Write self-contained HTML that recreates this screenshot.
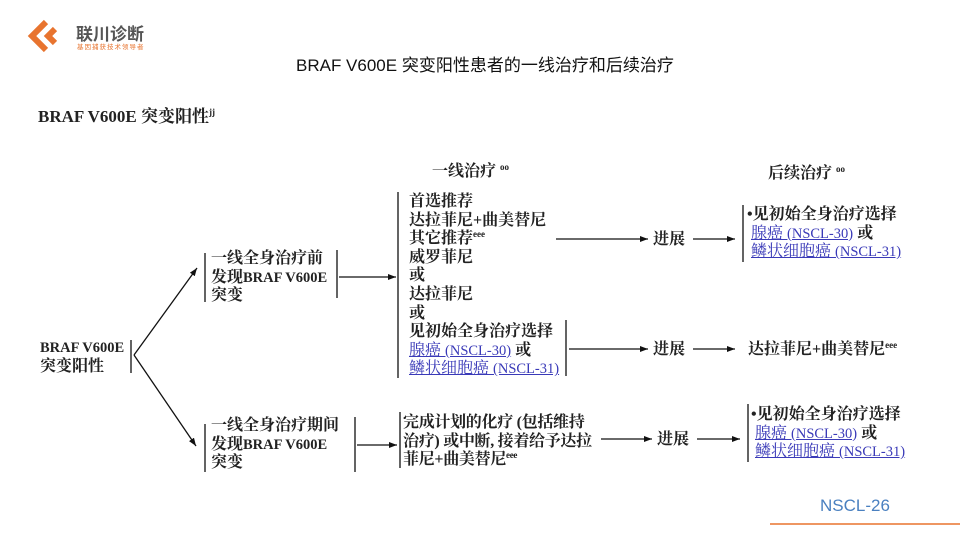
<!DOCTYPE html>
<html><head><meta charset="utf-8"><style>
body{margin:0;width:960px;height:540px;background:#fff;position:relative;overflow:hidden}
.t{position:absolute;font-family:"Liberation Serif","Noto Serif CJK SC",serif;font-weight:bold;font-size:16px;color:#222;white-space:nowrap;line-height:18.6px}
.l{color:#3a3ab8;text-decoration:underline;font-weight:normal}
.b{font-size:14.5px}
sup{font-size:9px;vertical-align:top;line-height:0;position:relative;top:4px}
.s{position:absolute;font-family:"Liberation Sans","Noto Sans CJK SC",sans-serif;white-space:nowrap}
</style></head><body>
<svg width="960" height="540" style="position:absolute;left:0;top:0">
<defs><marker id="a" markerWidth="8" markerHeight="6" refX="8" refY="3" orient="auto" markerUnits="userSpaceOnUse"><path d="M0,0L8,3L0,6z" fill="#111"/></marker></defs>
<g fill="none" stroke="#e8742f" stroke-width="6" stroke-linejoin="miter">
<path d="M46,22 L32,36 L46,50"/><path d="M55,29 L48,36 L55,43"/>
</g>
<line x1="770" y1="524" x2="960" y2="524" stroke="#e8742f" stroke-width="1.5"/>
<g stroke="#111" stroke-width="1.3" fill="none">
<line x1="131" y1="340" x2="131" y2="373"/>
<line x1="134" y1="355" x2="197" y2="268" marker-end="url(#a)"/>
<line x1="134" y1="355" x2="196" y2="446" marker-end="url(#a)"/>
<line x1="205" y1="253" x2="205" y2="302"/><line x1="337" y1="250" x2="337" y2="298"/>
<line x1="339" y1="277" x2="396" y2="277" marker-end="url(#a)"/>
<line x1="398" y1="192" x2="398" y2="378"/>
<line x1="566" y1="320" x2="566" y2="376"/>
<line x1="556" y1="239" x2="648" y2="239" marker-end="url(#a)"/>
<line x1="693" y1="239" x2="735" y2="239" marker-end="url(#a)"/>
<line x1="743" y1="205" x2="743" y2="262"/>
<line x1="569" y1="349" x2="648" y2="349" marker-end="url(#a)"/>
<line x1="693" y1="349" x2="735" y2="349" marker-end="url(#a)"/>
<line x1="205" y1="424" x2="205" y2="472"/><line x1="355" y1="417" x2="355" y2="472"/>
<line x1="357" y1="445" x2="397" y2="445" marker-end="url(#a)"/>
<line x1="400" y1="412" x2="400" y2="468"/>
<line x1="601" y1="439" x2="652" y2="439" marker-end="url(#a)"/>
<line x1="697" y1="439" x2="740" y2="439" marker-end="url(#a)"/>
<line x1="748" y1="404" x2="748" y2="462"/>
</g></svg>
<div class="s" style="left:76px;top:20px;font-size:17px;font-weight:bold;color:#555">联川诊断</div>
<div class="s" style="left:77px;top:41px;font-size:6.5px;color:#e8742f;letter-spacing:1px">基因捕获技术领导者</div>
<div class="s" style="left:296px;top:51px;font-size:17px;color:#111">BRAF V600E 突变阳性患者的一线治疗和后续治疗</div>
<div class="t" style="left:38px;top:108px;font-size:17px">BRAF V600E 突变阳性<sup>jj</sup></div>
<div class="t" style="left:432px;top:163px;font-size:16px">一线治疗 <sup>oo</sup></div>
<div class="t" style="left:768px;top:165px;font-size:16px">后续治疗 <sup>oo</sup></div>
<div class="t" style="left:40px;top:339px"><span class="b">BRAF V600E</span><br>突变阳性</div>
<div class="t" style="left:211px;top:250px">一线全身治疗前<br>发现<span class="b">BRAF V600E</span><br>突变</div>
<div class="t" style="left:409px;top:193px">首选推荐<br>达拉菲尼+曲美替尼<br>其它推荐<sup>eee</sup><br>威罗菲尼<br>或<br>达拉菲尼<br>或<br>见初始全身治疗选择<br><span class="l">腺癌 <span class="b">(NSCL-30)</span></span> 或<br><span class="l">鳞状细胞癌 <span class="b">(NSCL-31)</span></span></div>
<div class="t" style="left:653px;top:231px;font-size:16px">进展</div>
<div class="t" style="left:653px;top:341px;font-size:16px">进展</div>
<div class="t" style="left:657px;top:431px;font-size:16px">进展</div>
<div class="t" style="left:747px;top:206px">•见初始全身治疗选择<br>&nbsp;<span class="l">腺癌 <span class="b">(NSCL-30)</span></span> 或<br>&nbsp;<span class="l">鳞状细胞癌 <span class="b">(NSCL-31)</span></span></div>
<div class="t" style="left:748px;top:341px">达拉菲尼+曲美替尼<sup>eee</sup></div>
<div class="t" style="left:211px;top:417px">一线全身治疗期间<br>发现<span class="b">BRAF V600E</span><br>突变</div>
<div class="t" style="left:403px;top:414px;letter-spacing:-0.3px">完成计划的化疗 (包括维持<br>治疗) 或中断, 接着给予达拉<br>菲尼+曲美替尼<sup>eee</sup></div>
<div class="t" style="left:751px;top:406px">•见初始全身治疗选择<br>&nbsp;<span class="l">腺癌 <span class="b">(NSCL-30)</span></span> 或<br>&nbsp;<span class="l">鳞状细胞癌 <span class="b">(NSCL-31)</span></span></div>
<div class="s" style="left:820px;top:496px;font-size:17px;color:#4a80c0">NSCL-26</div>
</body></html>
